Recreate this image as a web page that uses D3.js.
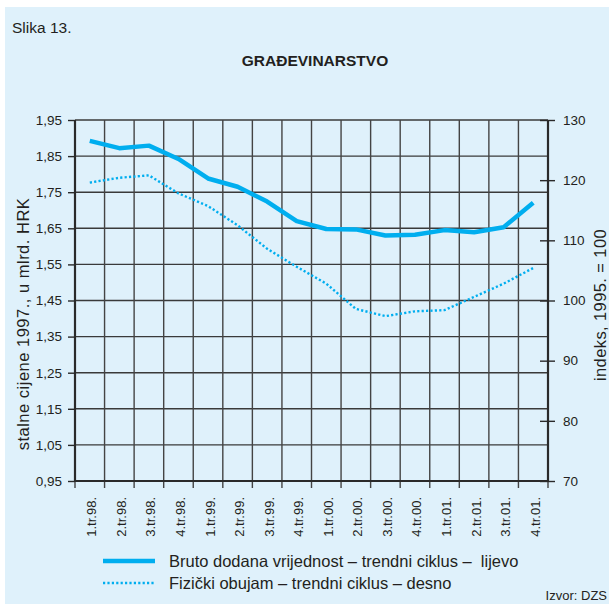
<!DOCTYPE html>
<html>
<head>
<meta charset="utf-8">
<script src="https://cdn.jsdelivr.net/npm/d3@7"></script>
<style>
  body { margin: 0; background: #fff; }
  svg { display: block; font-family: "Liberation Sans", Arial, sans-serif; }
</style>
</head>
<body>
<svg id="chart" width="609" height="604"></svg>
<script>
// ---------------------------------------------------------------
//   Data
// ---------------------------------------------------------------
var quarters = ["1.tr.98.", "2.tr.98.", "3.tr.98.", "4.tr.98.",
                "1.tr.99.", "2.tr.99.", "3.tr.99.", "4.tr.99.",
                "1.tr.00.", "2.tr.00.", "3.tr.00.", "4.tr.00.",
                "1.tr.01.", "2.tr.01.", "3.tr.01.", "4.tr.01."];

// Bruto dodana vrijednost, mlrd. HRK (lijeva os)
var bruto = [1.892, 1.872, 1.879, 1.842, 1.788, 1.765, 1.724, 1.670,
             1.648, 1.647, 1.630, 1.632, 1.645, 1.639, 1.653, 1.721];

// Fizicki obujam, indeks 1995 = 100 (desna os)
var obujam = [119.6, 120.4, 120.8, 117.8, 115.7, 112.5, 108.6, 105.6,
              102.8, 98.6, 97.4, 98.2, 98.4, 100.6, 102.8, 105.4];

var leftTicks = [0.95, 1.05, 1.15, 1.25, 1.35, 1.45, 1.55, 1.65, 1.75, 1.85, 1.95];
var rightTicks = [70, 80, 90, 100, 110, 120, 130];

var blue = "#00aeef";
var ink = "#231f20";

// ---------------------------------------------------------------
//   Setup
// ---------------------------------------------------------------
var svg = d3.select("#chart");
var plotLeft = 75, plotRight = 548, plotTop = 120, plotBottom = 481;

var hr = d3.formatLocale({decimal: ",", thousands: ".", grouping: [3], currency: ["", ""]});
var fmt = hr.format(".2f");

var xScale = d3.scaleBand().domain(quarters).range([plotLeft, plotRight]);
var yLeft = d3.scaleLinear().domain([0.95, 1.95]).range([plotBottom, plotTop]);
var yRight = d3.scaleLinear().domain([70, 130]).range([plotBottom, plotTop]);

var boundaries = quarters.map(function(q) { return xScale(q); }).concat([xScale.range()[1]]);

// background
svg.append("rect")
    .attr("x", 5).attr("y", 7)
    .attr("width", 604).attr("height", 597)
    .style("fill", "#dff1fb");

// header texts
svg.append("text")
    .attr("x", 12).attr("y", 33)
    .style("font-size", "15.5px").style("fill", ink)
    .text("Slika 13.");

svg.append("text")
    .attr("x", 315).attr("y", 66)
    .attr("text-anchor", "middle")
    .style("font-size", "15.5px").style("font-weight", "bold").style("fill", ink)
    .text("GRAĐEVINARSTVO");

// ---------------------------------------------------------------
//   Grid
// ---------------------------------------------------------------
svg.append("g").selectAll("line")
    .data(leftTicks)
  .enter().append("line")
    .attr("x1", plotLeft).attr("x2", plotRight)
    .attr("y1", function(d) { return yLeft(d); })
    .attr("y2", function(d) { return yLeft(d); })
    .style("stroke", "#3a3a3a").style("stroke-width", 1.4);

svg.append("g").selectAll("line")
    .data(boundaries)
  .enter().append("line")
    .attr("x1", function(d) { return d; })
    .attr("x2", function(d) { return d; })
    .attr("y1", plotTop).attr("y2", plotBottom + 7)
    .style("stroke", "#444").style("stroke-width", 1.4);

// frame (left, right, bottom)
svg.append("path")
    .attr("d", "M" + plotLeft + "," + plotTop + "V" + plotBottom + "H" + plotRight + "V" + plotTop)
    .style("fill", "none").style("stroke", "#2a2a2a").style("stroke-width", 2.2);

// ---------------------------------------------------------------
//   Axes
// ---------------------------------------------------------------
var axisL = svg.append("g")
    .attr("transform", "translate(" + plotLeft + ",0)")
    .call(d3.axisLeft(yLeft).tickValues(leftTicks).tickFormat(fmt).tickSize(7).tickPadding(6));

var axisR = svg.append("g")
    .attr("transform", "translate(" + plotRight + ",0)")
    .call(d3.axisRight(yRight).tickValues(rightTicks).tickSize(7).tickPadding(8));
axisR.selectAll(".tick line").attr("x1", -8);

var axisB = svg.append("g")
    .attr("transform", "translate(0," + plotBottom + ")")
    .call(d3.axisBottom(xScale).tickSize(0));

[axisL, axisR, axisB].forEach(function(a) {
  a.select(".domain").remove();
  a.selectAll(".tick line").style("stroke", "#2a2a2a").style("stroke-width", 1.4);
  a.selectAll("text").style("fill", ink).style("font-family", "Liberation Sans, Arial, sans-serif");
});
axisL.selectAll("text").style("font-size", "13.5px");
axisR.selectAll("text").style("font-size", "13.5px");

axisB.selectAll(".tick text")
    .style("font-size", "13px")
    .attr("text-anchor", "end")
    .attr("transform", "rotate(-90)")
    .attr("x", -16).attr("y", 0)
    .attr("dy", "0.5em");

// axis titles
svg.append("text")
    .attr("transform", "translate(29,324) rotate(-90)")
    .attr("text-anchor", "middle")
    .style("font-size", "16.5px").style("letter-spacing", "0.5px").style("fill", ink)
    .text("stalne cijene 1997., u mlrd. HRK");

svg.append("text")
    .attr("transform", "translate(606,305) rotate(-90)")
    .attr("text-anchor", "middle")
    .style("font-size", "16.5px").style("letter-spacing", "0.4px").style("fill", ink)
    .text("indeks, 1995. = 100");

// ---------------------------------------------------------------
//   Lines
// ---------------------------------------------------------------
var cx = function(d, i) { return xScale(quarters[i]) + xScale.bandwidth() / 2; };

svg.append("path")
    .datum(obujam)
    .attr("d", d3.line().x(cx).y(function(d) { return yRight(d); }))
    .style("fill", "none").style("stroke", blue)
    .style("stroke-width", 2.4).style("stroke-dasharray", "2.2,2.2");

svg.append("path")
    .datum(bruto)
    .attr("d", d3.line().x(cx).y(function(d) { return yLeft(d); }))
    .style("fill", "none").style("stroke", blue)
    .style("stroke-width", 4.5).style("stroke-linejoin", "round");

// ---------------------------------------------------------------
//   Legend
// ---------------------------------------------------------------
var legend = [
  {label: "Bruto dodana vrijednost \u2013 trendni ciklus \u2013  lijevo", w: 4.5, dash: null},
  {label: "Fizi\u010dki obujam \u2013 trendni ciklus \u2013 desno", w: 2.4, dash: "2.2,2.2"}
];

var lg = svg.append("g").selectAll("g")
    .data(legend)
  .enter().append("g")
    .attr("transform", function(d, i) { return "translate(0," + (561 + i * 22) + ")"; });

lg.append("line")
    .attr("x1", 103).attr("x2", 155)
    .style("stroke", blue)
    .style("stroke-width", function(d) { return d.w; })
    .style("stroke-dasharray", function(d) { return d.dash; });

lg.append("text")
    .attr("x", 169).attr("y", 0).attr("dy", "0.36em")
    .style("font-size", "16.5px").style("fill", ink)
    .style("white-space", "pre")
    .attr("xml:space", "preserve")
    .text(function(d) { return d.label; });

svg.append("text")
    .attr("x", 607).attr("y", 600)
    .attr("text-anchor", "end")
    .style("font-size", "13px").style("fill", ink)
    .text("Izvor: DZS");
</script>
</body>
</html>
